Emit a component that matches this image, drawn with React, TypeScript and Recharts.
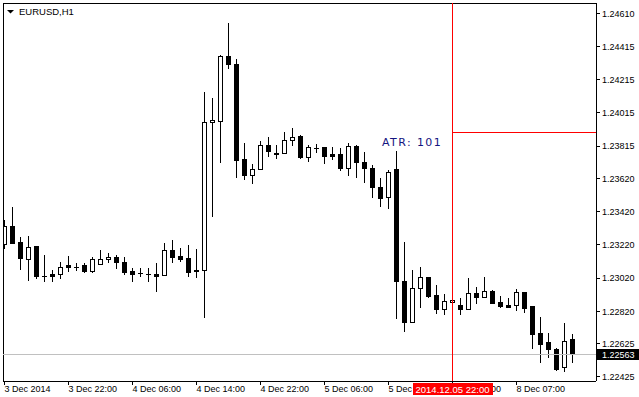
import { ComposedChart, Bar, XAxis, YAxis, ReferenceLine, Customized } from 'recharts'

// EURUSD H1 candles, 3 Dec 14:00 .. 8 Dec 10:00
const OPEN = [
  1.23226, 1.23334, 1.23238, 1.23135, 1.23214, 1.23033, 1.23045, 1.23045, 1.23099, 1.23087,
  1.23099, 1.23063, 1.23105, 1.23135, 1.23147, 1.23117, 1.23063, 1.23051, 1.23045, 1.23045,
  1.23039, 1.2319, 1.23153, 1.23141, 1.23069, 1.23069, 1.2396, 1.23966, 1.24357, 1.24309,
  1.23737, 1.23641, 1.23677, 1.23822, 1.23773, 1.23773, 1.23852, 1.23876, 1.23749, 1.23804,
  1.2381, 1.23767, 1.23767, 1.23683, 1.23816, 1.23719, 1.23683, 1.23569, 1.23509, 1.23677,
  1.23003, 1.22756, 1.22961, 1.23027, 1.22919, 1.22834, 1.22877, 1.22858, 1.22834, 1.22931,
  1.22907, 1.22943, 1.22877, 1.22858, 1.22858, 1.22937, 1.22852, 1.2269, 1.22636, 1.22594,
  1.22485, 1.22654,
]
const HIGH = [
  1.2337, 1.23448, 1.23268, 1.23274, 1.23216, 1.23159, 1.23069, 1.23117, 1.23153, 1.23111,
  1.23111, 1.23147, 1.2319, 1.23171, 1.23159, 1.23147, 1.23081, 1.23081, 1.23081, 1.23111,
  1.23232, 1.2325, 1.23202, 1.2322, 1.23196, 1.24141, 1.24105, 1.24363, 1.24556, 1.24339,
  1.23834, 1.23707, 1.23846, 1.2387, 1.23822, 1.239, 1.23924, 1.23882, 1.23822, 1.23828,
  1.23812, 1.2381, 1.23804, 1.23834, 1.23822, 1.2378, 1.23701, 1.23623, 1.23671, 1.23786,
  1.23238, 1.23069, 1.23087, 1.23029, 1.22979, 1.22925, 1.22889, 1.22901, 1.23021, 1.22967,
  1.23027, 1.22949, 1.22913, 1.22901, 1.22955, 1.22939, 1.22854, 1.22786, 1.2269, 1.226,
  1.2275, 1.22684,
]
const LOW = [
  1.23202, 1.23232, 1.23075, 1.23009, 1.23021, 1.23003, 1.23003, 1.23021, 1.23063, 1.23069,
  1.23057, 1.2306, 1.23103, 1.23117, 1.23081, 1.23045, 1.23003, 1.23033, 1.23003, 1.22943,
  1.23037, 1.23117, 1.23123, 1.23033, 1.23027, 1.22786, 1.23394, 1.23719, 1.24285, 1.23629,
  1.23617, 1.23593, 1.23675, 1.23755, 1.23743, 1.23771, 1.23822, 1.23743, 1.23725, 1.2378,
  1.23713, 1.23737, 1.23671, 1.23641, 1.23629, 1.23599, 1.23509, 1.23454, 1.23442, 1.2278,
  1.22702, 1.22754, 1.22846, 1.22907, 1.2281, 1.22804, 1.22875, 1.22804, 1.22832, 1.2287,
  1.22905, 1.2287, 1.22846, 1.22844, 1.22828, 1.22816, 1.226, 1.22515, 1.22545, 1.22467,
  1.22461, 1.22515,
]
const CLOSE = [
  1.23334, 1.23232, 1.23141, 1.23208, 1.23033, 1.23031, 1.23033, 1.23087, 1.23087, 1.23089,
  1.23063, 1.23135, 1.23135, 1.23147, 1.23117, 1.23057, 1.23045, 1.2305, 1.23044, 1.23033,
  1.2319, 1.23147, 1.23135, 1.23057, 1.23063, 1.2396, 1.23972, 1.24357, 1.24309, 1.23731,
  1.23641, 1.23677, 1.23822, 1.23786, 1.23767, 1.23852, 1.2387, 1.23749, 1.2381, 1.23803,
  1.23755, 1.23755, 1.23683, 1.23816, 1.23719, 1.23683, 1.23569, 1.23503, 1.23659, 1.23003,
  1.22756, 1.22961, 1.23027, 1.22913, 1.22834, 1.22883, 1.22887, 1.22834, 1.22931, 1.22907,
  1.22943, 1.22871, 1.22852, 1.22846, 1.22937, 1.2284, 1.22684, 1.22624, 1.22594, 1.22473,
  1.22642, 1.22563,
]

const X_TICKS = [0, 8, 16, 24, 32, 40, 48, 56, 64]
const X_LABELS = [
  '3 Dec 2014', '3 Dec 22:00', '4 Dec 06:00', '4 Dec 14:00', '4 Dec 22:00',
  '5 Dec 06:00', '5 Dec 14:00', '5 Dec 22:00', '8 Dec 07:00',
]
const Y_TICKS = [
  1.2461, 1.24415, 1.24215, 1.24015, 1.23815, 1.2362, 1.2342, 1.2322, 1.2302, 1.2282, 1.22625, 1.22425,
]

const SYMBOL = 'EURUSD,H1'
const LAST_PRICE = 1.22563
const CROSS_INDEX = 56
const CROSS_PRICE = 1.23894
const CROSS_LABEL = '2014.12.05 22:00'
const ATR_TEXT = 'ATR: 101'

const X_DOMAIN: [number, number] = [-0.1875, 73.9375]
const Y_DOMAIN: [number, number] = [1.224009, 1.246762]
const FONT = '"Liberation Sans", Arial, sans-serif'

const data = OPEN.map((o, i) => ({
  i,
  o,
  h: HIGH[i],
  l: LOW[i],
  c: CLOSE[i],
  range: [LOW[i], HIGH[i]],
}))

const Candle = (props: any) => {
  const { x, y, width, height, payload } = props
  const { o, h, l, c } = payload
  const top0 = Math.min(y, y + height)
  const hgt = Math.abs(height)
  const per = hgt / (h - l)
  const yOf = (v: number) => top0 + (h - v) * per
  const cx = Math.floor(x + width / 2) + 0.5
  const hi = Math.round(yOf(h))
  const lo = Math.round(yOf(l))
  const bTop = Math.round(yOf(Math.max(o, c)))
  const bBot = Math.round(yOf(Math.min(o, c)))
  const bull = c > o
  return (
    <g>
      <line x1={cx} x2={cx} y1={hi} y2={lo + 1} stroke='#000' strokeWidth={1} />
      {bBot - bTop < 1 ? (
        <line x1={cx - 2.5} x2={cx + 2.5} y1={bTop + 0.5} y2={bTop + 0.5} stroke='#000' />
      ) : bull ? (
        <rect x={cx - 2} y={bTop + 0.5} width={4} height={bBot - bTop} fill='#fff' stroke='#000' strokeWidth={1} />
      ) : (
        <rect x={cx - 2.5} y={bTop} width={5} height={bBot - bTop + 1} fill='#000' />
      )}
    </g>
  )
}

// time labels; the crosshair's red date box is drawn over its own tick
const XTick = (props: any) => {
  const { x, y, payload } = props
  const idx = X_TICKS.indexOf(payload.value)
  return (
    <g>
      <text x={x} y={y} dy='0.71em' fontSize={9} fontFamily={FONT} fill='#000' textAnchor='start'>
        {X_LABELS[idx]}
      </text>
      {payload.value === CROSS_INDEX && (
        <g>
          <rect x={x - 40} y={y - 3} width={80} height={12} fill='#ff0000' />
          <text x={x} y={y + 6.5} fontSize={9.5} fontFamily={FONT} fill='#fff' textAnchor='middle'>
            {CROSS_LABEL}
          </text>
        </g>
      )}
    </g>
  )
}

const Overlay = () => (
  <g>
    <polygon points='7,10 14,10 10.5,13.5' fill='#000' />
    <text x={19} y={15} fontSize={9.5} fontFamily={FONT} fill='#000'>
      {SYMBOL}
    </text>
    <text x={382} y={146} fontSize={11} fontFamily='"DejaVu Sans", sans-serif' letterSpacing={1.4} fill='#14147f'>
      {ATR_TEXT}
    </text>
  </g>
)

const priceLabel = (p: any) => {
  const { x, y, width } = p.viewBox
  return (
    <g>
      <rect x={x + width} y={y - 5} width={43} height={11} fill='#000' />
      <text x={x + width + 6} y={y + 3.5} fontSize={9} fontFamily={FONT} fill='#fff'>
        {LAST_PRICE.toFixed(5)}
      </text>
    </g>
  )
}

export default function App() {
  return (
    <div style={{ width: 639, height: 397, background: '#fff' }}>
      <style>{'body{margin:0} .recharts-surface line, .recharts-surface rect{shape-rendering:crispEdges}'}</style>
      <ComposedChart width={639} height={397} data={data} margin={{ top: 3, right: 0, bottom: 0, left: 3 }}>
        <XAxis
          dataKey='i'
          type='number'
          domain={X_DOMAIN}
          allowDataOverflow
          ticks={X_TICKS}
          interval={0}
          height={16}
          tickSize={4}
          tickMargin={1}
          stroke='#000'
          tickLine={{ stroke: '#000' }}
          tick={<XTick />}
        />
        <YAxis
          orientation='right'
          domain={Y_DOMAIN}
          allowDataOverflow
          ticks={Y_TICKS}
          interval={0}
          width={43}
          tickSize={4}
          tickMargin={2}
          stroke='#000'
          tickFormatter={(v: number) => v.toFixed(5)}
          tick={{ fontSize: 9, fontFamily: FONT, fill: '#000' }}
        />
        <ReferenceLine y={Y_DOMAIN[1]} stroke='#000' />
        <ReferenceLine x={X_DOMAIN[0]} stroke='#000' />
        <ReferenceLine y={LAST_PRICE} stroke='#c0c0c0' label={priceLabel} />
        <Bar dataKey='range' shape={Candle} barSize={5} isAnimationActive={false} />
        <ReferenceLine x={CROSS_INDEX} stroke='#ff0000' />
        <ReferenceLine
          segment={[
            { x: CROSS_INDEX, y: CROSS_PRICE },
            { x: X_DOMAIN[1], y: CROSS_PRICE },
          ]}
          stroke='#ff0000'
        />
        <Customized component={Overlay} />
      </ComposedChart>
    </div>
  )
}
